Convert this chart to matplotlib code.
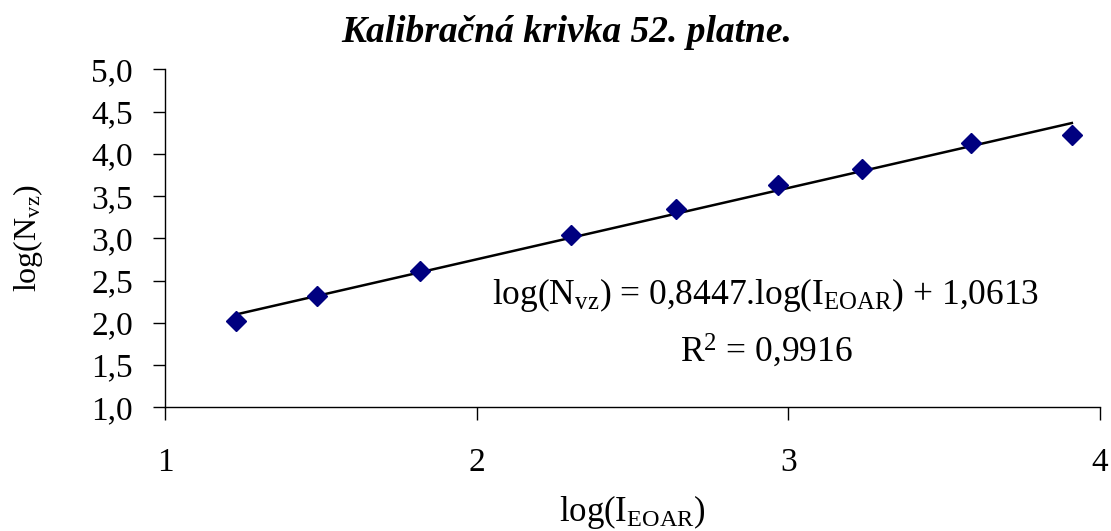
import numpy as np
import matplotlib
matplotlib.use("Agg")
import matplotlib.pyplot as plt

plt.rcParams['font.family'] = ['Liberation Serif', 'DejaVu Serif']
plt.rcParams['mathtext.fontset'] = 'custom'
plt.rcParams['mathtext.rm'] = 'Liberation Serif'
plt.rcParams['mathtext.it'] = 'Liberation Serif:italic'
plt.rcParams['mathtext.bf'] = 'Liberation Serif:bold'

# data
log_I = [1.228, 1.488, 1.817, 2.302, 2.640, 2.967, 3.237, 3.588, 3.910]
log_N = [2.021, 2.317, 2.617, 3.039, 3.343, 3.634, 3.824, 4.124, 4.226]
slope = 0.8447
intercept = 1.0613
x_ticks = [1, 2, 3, 4]
y_ticks = [1.0, 1.5, 2.0, 2.5, 3.0, 3.5, 4.0, 4.5, 5.0]
y_ticklabels = ['1,0', '1,5', '2,0', '2,5', '3,0', '3,5', '4,0', '4,5', '5,0']
title = 'Kalibračná krivka 52. platne.'
eq_text = r'log(N$_{\mathrm{vz}}$) = 0,8447.log(I$_{\mathrm{EOAR}}$) + 1,0613'
r2_text = r'R$^{2}$ = 0,9916'

fig = plt.figure(figsize=(11.11, 5.31), dpi=100)
ax = fig.add_axes([0.1485, 0.233, 0.8415, 0.6365])

ax.plot(log_I, log_N, linestyle='none', marker='D', markersize=10.5,
        color='#000080', zorder=3)
xl = np.array([log_I[0], log_I[-1]])
ax.plot(xl, slope * xl + intercept, color='black', linewidth=1.8, zorder=2)

ax.set_xlim(1, 4)
ax.set_ylim(1, 5)
ax.set_xticks(x_ticks)
ax.set_xticklabels([str(t) for t in x_ticks])
ax.set_yticks(y_ticks)
ax.set_yticklabels(y_ticklabels)
for s in ['top', 'right']:
    ax.spines[s].set_visible(False)
for s in ['left', 'bottom']:
    ax.spines[s].set_linewidth(1.0)
ax.tick_params(axis='both', direction='out', length=9, width=1.0,
               labelsize=24, colors='black')
ax.tick_params(axis='x', pad=20)
ax.tick_params(axis='y', pad=14)

ax.set_xlabel(r'log(I$_{\mathrm{EOAR}}$)', fontsize=25)
ax.xaxis.set_label_coords(0.5, -0.255)
ax.set_ylabel(r'log(N$_{\mathrm{vz}}$)', fontsize=23)
ax.yaxis.set_label_coords(-0.128, 0.5)

fig.text(0.510, 0.921, title, ha='center', va='baseline', fontsize=27,
         fontweight='bold', fontstyle='italic')

ax.text(0.642, 0.3056, eq_text, transform=ax.transAxes,
        ha='center', va='baseline', fontsize=25.5)
ax.text(0.6435, 0.135, r2_text, transform=ax.transAxes,
        ha='center', va='baseline', fontsize=25.5)

fig.savefig('out.png', dpi=100, facecolor='white')
